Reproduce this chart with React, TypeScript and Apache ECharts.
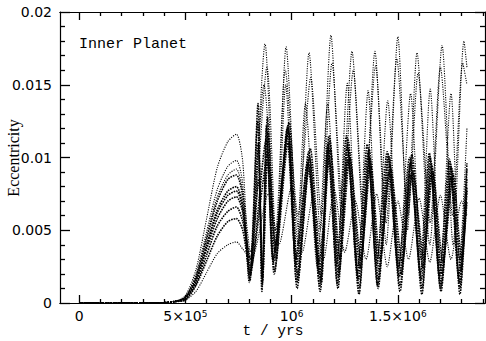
import React, { useEffect, useRef } from "react";
import * as echarts from "echarts";

// ---------- data (t in years, e = eccentricity) ----------
const earlyT = [0, 1e5, 2e5, 3e5, 4e5, 4.5e5, 5e5, 5.5e5, 6e5, 6.5e5, 7e5, 7.4e5, 7.7e5];

const earlyA = [0.00002, 0.00002, 0.00002, 0.00002, 0.00004, 0.0001, 0.0005, 0.0023, 0.0058, 0.0093, 0.0111, 0.0116, 0.0097];
const earlyB = [0.00002, 0.00002, 0.00002, 0.00002, 0.00003, 0.0001, 0.0004, 0.002, 0.0049, 0.0078, 0.0094, 0.0098, 0.0082];
const earlyJ = [0.00002, 0.00002, 0.00002, 0.00002, 0.00003, 0.0001, 0.0004, 0.0018, 0.0046, 0.0073, 0.0088, 0.0092, 0.0077];
const earlyC = [0.00002, 0.00002, 0.00002, 0.00002, 0.00002, 0.0001, 0.0004, 0.0018, 0.0044, 0.007, 0.0085, 0.0088, 0.0073];
const earlyD = [0.00002, 0.00002, 0.00002, 0.00002, 0.00002, 0.0001, 0.0003, 0.0016, 0.004, 0.0064, 0.0077, 0.008, 0.0067];
const earlyE = [0.00002, 0.00002, 0.00002, 0.00002, 0.00002, 0.0001, 0.0003, 0.0015, 0.0039, 0.0062, 0.0074, 0.0077, 0.0065];
const earlyF = [0.00002, 0.00002, 0.00002, 0.00002, 0.00002, 0.0001, 0.0003, 0.0015, 0.0037, 0.0058, 0.007, 0.0073, 0.0062];
const earlyG = [0.00002, 0.00002, 0.00002, 0.00002, 0.00002, 0.0001, 0.0003, 0.0013, 0.0033, 0.0053, 0.0063, 0.0066, 0.0056];
const earlyH = [0.00002, 0.00002, 0.00002, 0.00002, 0.00002, 0.0001, 0.0002, 0.0012, 0.0029, 0.0046, 0.0056, 0.0058, 0.005];
const earlyI = [0.00001, 0.00001, 0.00001, 0.00001, 0.00001, 0.0001, 0.0002, 0.0008, 0.0021, 0.0034, 0.004, 0.0042, 0.0037];

const laterA = [[8.04e5, 0.0015], [8.75e5, 0.0178], [9.25e5, 0.003], [9.74e5, 0.0176], [1.03e6, 0.004], [1.082e6, 0.0172], [1.135e6, 0.005], [1.185e6, 0.0184], [1.235e6, 0.006], [1.284e6, 0.0173], [1.34e6, 0.005], [1.392e6, 0.0173], [1.445e6, 0.004], [1.5e6, 0.0183], [1.545e6, 0.005], [1.59e6, 0.0172], [1.65e6, 0.004], [1.708e6, 0.0177], [1.76e6, 0.004], [1.811e6, 0.018], [1.825e6, 0.0162]];
const laterB = [[8.0e5, 0.0014], [8.84e5, 0.0162], [9.3e5, 0.003], [9.72e5, 0.015], [1.02e6, 0.003], [1.065e6, 0.0137], [1.12e6, 0.0025], [1.17e6, 0.0137], [1.215e6, 0.003], [1.262e6, 0.0151], [1.312e6, 0.0025], [1.36e6, 0.0146], [1.404e6, 0.003], [1.452e6, 0.0139], [1.505e6, 0.0025], [1.56e6, 0.0144], [1.608e6, 0.003], [1.652e6, 0.0147], [1.7e6, 0.0025], [1.75e6, 0.0144], [1.79e6, 0.003], [1.825e6, 0.012]];
const laterJ = [[8.06e5, 0.0035], [8.7e5, 0.015], [9.25e5, 0.005], [9.7e5, 0.016], [1.03e6, 0.006], [1.09e6, 0.0155], [1.14e6, 0.006], [1.19e6, 0.0165], [1.24e6, 0.0065], [1.29e6, 0.016], [1.34e6, 0.006], [1.395e6, 0.0163], [1.445e6, 0.0055], [1.495e6, 0.0168], [1.548e6, 0.006], [1.595e6, 0.0158], [1.652e6, 0.0055], [1.7e6, 0.0162], [1.758e6, 0.006], [1.805e6, 0.0165], [1.825e6, 0.015]];
const laterC = [[8.02e5, 0.0016], [8.42e5, 0.0137], [8.6e5, 0.0008], [8.86e5, 0.0128], [9.2e5, 0.0022], [9.83e5, 0.0122], [1.024e6, 0.0014], [1.08e6, 0.0104], [1.133e6, 0.0012], [1.176e6, 0.0115], [1.22e6, 0.0018], [1.266e6, 0.0112], [1.318e6, 0.001], [1.365e6, 0.0106], [1.408e6, 0.0016], [1.458e6, 0.01], [1.51e6, 0.0012], [1.563e6, 0.0098], [1.614e6, 0.001], [1.656e6, 0.0097], [1.704e6, 0.0012], [1.75e6, 0.0094], [1.792e6, 0.001], [1.825e6, 0.0085]];
const laterD = [[8.05e5, 0.002], [8.4e5, 0.0125], [8.62e5, 0.0012], [8.82e5, 0.0122], [9.15e5, 0.0028], [9.85e5, 0.0118], [1.028e6, 0.002], [1.085e6, 0.01], [1.136e6, 0.0016], [1.172e6, 0.011], [1.215e6, 0.0013], [1.262e6, 0.0108], [1.314e6, 0.0016], [1.36e6, 0.0104], [1.404e6, 0.0012], [1.455e6, 0.0102], [1.507e6, 0.0018], [1.558e6, 0.0096], [1.61e6, 0.0016], [1.652e6, 0.01], [1.7e6, 0.001], [1.746e6, 0.0097], [1.79e6, 0.0014], [1.825e6, 0.0092]];
const laterE = [[8.06e5, 0.0025], [8.45e5, 0.0085], [8.64e5, 0.0018], [8.9e5, 0.0118], [9.22e5, 0.0035], [9.8e5, 0.0121], [1.022e6, 0.0025], [1.078e6, 0.0098], [1.13e6, 0.002], [1.18e6, 0.0112], [1.224e6, 0.0022], [1.27e6, 0.0105], [1.322e6, 0.0024], [1.368e6, 0.01], [1.412e6, 0.0022], [1.462e6, 0.0095], [1.515e6, 0.002], [1.566e6, 0.0102], [1.618e6, 0.0024], [1.66e6, 0.0094], [1.708e6, 0.002], [1.755e6, 0.0092], [1.796e6, 0.0022], [1.825e6, 0.0078]];
const laterF = [[8.03e5, 0.0018], [8.8e5, 0.0112], [9.12e5, 0.003], [9.88e5, 0.0124], [1.03e6, 0.0016], [1.088e6, 0.0106], [1.14e6, 0.0014], [1.17e6, 0.0108], [1.212e6, 0.0026], [1.258e6, 0.0115], [1.31e6, 0.002], [1.356e6, 0.0109], [1.4e6, 0.0026], [1.45e6, 0.0104], [1.502e6, 0.0024], [1.555e6, 0.01], [1.606e6, 0.002], [1.648e6, 0.0103], [1.696e6, 0.0018], [1.742e6, 0.0099], [1.786e6, 0.0018], [1.825e6, 0.0096]];
const laterG = [[8.07e5, 0.003], [8.43e5, 0.011], [8.63e5, 0.0015], [8.87e5, 0.0105], [9.25e5, 0.004], [9.78e5, 0.0115], [1.02e6, 0.003], [1.075e6, 0.0096], [1.128e6, 0.0028], [1.182e6, 0.0105], [1.228e6, 0.003], [1.274e6, 0.01], [1.326e6, 0.003], [1.372e6, 0.0095], [1.416e6, 0.003], [1.466e6, 0.0092], [1.52e6, 0.0028], [1.57e6, 0.009], [1.622e6, 0.003], [1.664e6, 0.009], [1.712e6, 0.0028], [1.76e6, 0.0088], [1.8e6, 0.003], [1.825e6, 0.007]];
const laterH = [[8.04e5, 0.0022], [8.83e5, 0.0098], [9.18e5, 0.002], [9.83e5, 0.011], [1.026e6, 0.001], [1.082e6, 0.0092], [1.134e6, 0.0008], [1.176e6, 0.01], [1.218e6, 0.001], [1.265e6, 0.0098], [1.317e6, 0.0006], [1.364e6, 0.0094], [1.407e6, 0.001], [1.458e6, 0.009], [1.51e6, 0.0008], [1.562e6, 0.0088], [1.613e6, 0.0006], [1.656e6, 0.0088], [1.703e6, 0.0008], [1.75e6, 0.0086], [1.792e6, 0.0006], [1.825e6, 0.008]];
const laterI = [[8.1e5, 0.003], [8.9e5, 0.0075], [9.4e5, 0.004], [1.0e6, 0.008], [1.05e6, 0.0035], [1.1e6, 0.0072], [1.15e6, 0.003], [1.2e6, 0.0078], [1.25e6, 0.0035], [1.3e6, 0.007], [1.35e6, 0.003], [1.4e6, 0.0075], [1.45e6, 0.0025], [1.5e6, 0.007], [1.55e6, 0.003], [1.6e6, 0.0072], [1.65e6, 0.0028], [1.7e6, 0.0074], [1.75e6, 0.003], [1.8e6, 0.007], [1.825e6, 0.006]];

const seriesParts: [number[], number[][]][] = [
  [earlyA, laterA], [earlyB, laterB], [earlyJ, laterJ], [earlyC, laterC], [earlyD, laterD],
  [earlyE, laterE], [earlyF, laterF], [earlyG, laterG], [earlyH, laterH], [earlyI, laterI],
];
// series drawn in the dense black core
const denseIndices = [3, 4, 5, 6, 7, 8];

const xMajorTicks = [0, 5e5, 1e6, 1.5e6];
const xMinorTicks = [1e5, 2e5, 3e5, 4e5, 6e5, 7e5, 8e5, 9e5, 1.1e6, 1.2e6, 1.3e6, 1.4e6, 1.6e6, 1.7e6, 1.8e6, 1.9e6];
const xTickLabels: Record<string, string> = {
  "0": "0",
  "500000": "5×10{s|5}",
  "1000000": "10{s|6}",
  "1500000": "1.5×10{s|6}",
};

const X_MIN = -9e4;
const X_MAX = 1.91e6;

export default function App() {
  const ref = useRef<HTMLDivElement>(null);
  useEffect(() => {
    if (!ref.current) return;
    const chart = echarts.init(ref.current, undefined, { renderer: "svg" });
    const labelFont = { fontFamily: "DejaVu Sans", fontSize: 14, color: "#000" };
    const xBase = (position: "bottom" | "top", major: boolean, showLabel: boolean) => ({
      type: "value",
      min: X_MIN,
      max: X_MAX,
      position,
      axisLine: { show: true, onZero: false, lineStyle: { color: "#000", width: 1.2 } },
      splitLine: { show: false },
      axisTick: {
        show: true,
        inside: true,
        length: major ? 8 : 4,
        customValues: major ? xMajorTicks : xMinorTicks,
        lineStyle: { color: "#000", width: 1.3 },
      },
      axisLabel: showLabel
        ? {
            show: true,
            customValues: xMajorTicks,
            margin: 6,
            ...labelFont,
            formatter: (v: number) => xTickLabels[String(v)] ?? "",
            rich: { s: { fontFamily: "DejaVu Sans", fontSize: 9, verticalAlign: "top", color: "#000" } },
          }
        : { show: false },
    });
    const yBase = (position: "left" | "right", showLabel: boolean) => ({
      type: "value",
      min: 0,
      max: 0.02,
      interval: 0.005,
      position,
      axisLine: { show: true, onZero: false, lineStyle: { color: "#000", width: 1.2 } },
      splitLine: { show: false },
      axisTick: { show: true, inside: true, length: 10, lineStyle: { color: "#000", width: 1.3 } },
      minorTick: { show: true, splitNumber: 5, length: 5, lineStyle: { color: "#000", width: 1.3 } },
      minorSplitLine: { show: false },
      axisLabel: showLabel ? { show: true, margin: 8, ...labelFont } : { show: false },
    });
    const series = seriesParts.map(([early, later], i) => {
      const dense = denseIndices.includes(i);
      return {
        type: "line",
        xAxisIndex: 0,
        yAxisIndex: 0,
        symbol: "none",
        smooth: 0.25,
        clip: true,
        silent: true,
        lineStyle: { color: "#000", width: dense ? 1.6 : 1.1, type: dense ? [1.6, 1] : [1.1, 1.3] },
        data: [...early.map((e, k) => [earlyT[k], e]), ...later],
      };
    });
    chart.setOption({
      animation: false,
      backgroundColor: "#fff",
      grid: { left: 60, right: 1, top: 12, bottom: 38, containLabel: false },
      xAxis: [xBase("bottom", true, true), xBase("bottom", false, false), xBase("top", true, false), xBase("top", false, false)],
      yAxis: [yBase("left", true), yBase("right", false)],
      series,
      graphic: [
        {
          type: "text",
          x: 79,
          y: 44,
          style: { text: "Inner Planet", font: '15px "Liberation Mono"', fill: "#000", textAlign: "left", textVerticalAlign: "middle" },
        },
        {
          type: "text",
          x: 273,
          y: 331,
          style: { text: "t / yrs", font: '14.5px "Liberation Mono"', fill: "#000", textAlign: "center", textVerticalAlign: "middle" },
        },
        {
          type: "text",
          x: 13,
          y: 158,
          rotation: Math.PI / 2,
          style: { text: "Eccentricity", font: '16px "Liberation Serif"', fill: "#000", textAlign: "center", textVerticalAlign: "middle" },
        },
      ],
    });
    return () => chart.dispose();
  }, []);
  return <div ref={ref} style={{ position: "fixed", left: 0, top: 0, width: 486, height: 341 }} />;
}
